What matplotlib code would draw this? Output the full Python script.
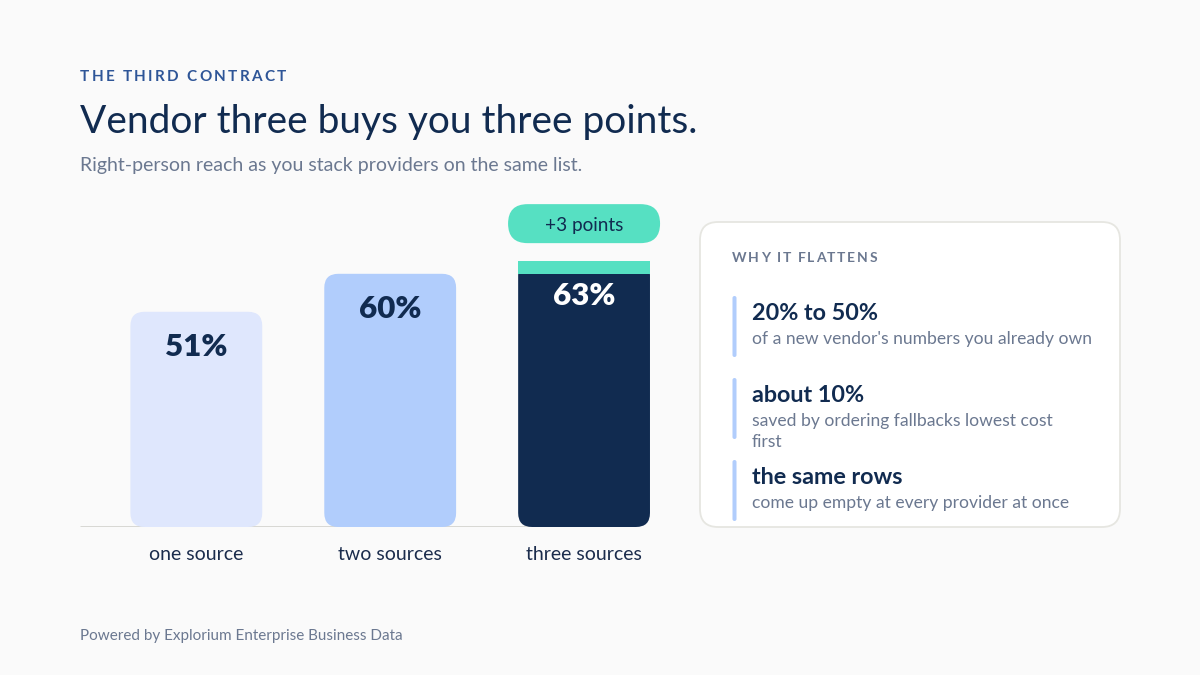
import matplotlib
matplotlib.use("Agg")
import matplotlib.pyplot as plt
from matplotlib.patches import FancyBboxPatch, Rectangle

plt.rcParams['font.family'] = ['Lato', 'DejaVu Sans']

categories = ["one source", "two sources", "three sources"]
values = [51, 60, 63]
prior_value = 60  # bar three's increment starts here
bar_colors = ["#dfe7fd", "#b1cdfc", "#112b50"]
label_colors = ["#112b50", "#112b50", "#ffffff"]
increment_label = "+3 points"

eyebrow = "THE THIRD CONTRACT"
title = "Vendor three buys you three points."
subtitle = "Right-person reach as you stack providers on the same list."
card_title = "WHY IT FLATTENS"
card_heads = ["20% to 50%", "about 10%", "the same rows"]
card_subs = ["of a new vendor's numbers you already own",
             "saved by ordering fallbacks lowest cost\nfirst",
             "come up empty at every provider at once"]
footer = "Powered by Explorium Enterprise Business Data"

NAVY = "#112b50"
GRAY = "#6b7890"
TEAL = "#56e0c2"
BG = "#fafafa"

W, H = 1200, 675
fig = plt.figure(figsize=(12, 6.75), dpi=100)
fig.patch.set_facecolor(BG)

# overlay axes in pixel coordinates
ov = fig.add_axes([0, 0, 1, 1])
ov.set_xlim(0, W)
ov.set_ylim(H, 0)
ov.axis('off')
ov.set_zorder(0)

renderer = fig.canvas.get_renderer()


def tracked_text(x, y, s, target_width, **kw):
    """Draw text char by char, spreading it to a given total width (letter spacing)."""
    widths = []
    for ch in s:
        t = ov.text(0, 0, ch if ch != " " else "\u00a0", **kw)
        widths.append(t.get_window_extent(renderer).width)
        t.remove()
    extra = (target_width - sum(widths)) / max(len(s) - 1, 1)
    cx = x
    for ch, w in zip(s, widths):
        if ch != " ":
            ov.text(cx, y, ch, ha='left', va='center', **kw)
        cx += w + extra


# chart axes
ax_left, ax_right = 80, 681
ax_bottom, ax_top = 527, 105
ax = fig.add_axes([ax_left / W, (H - ax_bottom) / H, (ax_right - ax_left) / W, (ax_bottom - ax_top) / H])
ax.set_zorder(1)
ax.patch.set_alpha(0)
ax.set_xlim(-0.6, 2.5)
ax.set_ylim(0, 100)
ax.axis('off')

px_x = (ax_right - ax_left) / 3.1
px_y = (ax_bottom - ax_top) / 100.0
bw = 0.68
r = 14 / px_x
asp = px_x / px_y

# baseline
ax.plot([-0.6, 2.18], [0, 0], color="#d4d4d0", lw=2, zorder=1, solid_capstyle='butt')

for i, (v, c) in enumerate(zip(values, bar_colors)):
    p = FancyBboxPatch((i - bw / 2, 0), bw, v,
                       boxstyle=f"round,pad=0,rounding_size={r}",
                       mutation_aspect=asp, fc=c, ec='none', zorder=2)
    ax.add_patch(p)
    ax.annotate(f"{v}%", xy=(i, v), xytext=(0, -35), textcoords='offset pixels',
                ha='center', va='center', fontsize=22.5, fontweight='heavy',
                color=label_colors[i], zorder=4)
    ax.annotate(categories[i], xy=(i, 0), xytext=(0, -27), textcoords='offset pixels',
                ha='center', va='center', fontsize=14, color="#1b2c4c")

# increment band on last bar
last = len(values) - 1
ax.add_patch(Rectangle((last - bw / 2, prior_value), bw, values[last] - prior_value,
                       fc=TEAL, ec='none', zorder=3))

# pill above last bar
fig.canvas.draw()
px, py = ax.transData.transform((last, values[last]))
py = H - py
pw, ph = 152, 39
pcy = py - 37.5
pill = FancyBboxPatch((px - pw / 2, pcy - ph / 2), pw, ph,
                      boxstyle="round,pad=0,rounding_size=19.5", fc=TEAL, ec='none', zorder=3)
ov.add_patch(pill)
ov.text(px, pcy + 2, increment_label, ha='center', va='center', fontsize=13.7, color=NAVY, zorder=4)

# header texts
tracked_text(80, 77, eyebrow, 206, fontsize=11, fontweight='bold', color="#2e5597")
ov.text(80, 122, title, ha='left', va='center', fontsize=28, color=NAVY)
ov.text(80, 165, subtitle, ha='left', va='center', fontsize=14, color=GRAY)

# card
card = FancyBboxPatch((700, 222), 420, 305, boxstyle="round,pad=0,rounding_size=18",
                      fc="white", ec="#e6e6e1", lw=1.3, zorder=1)
ov.add_patch(card)
tracked_text(732, 258, card_title, 145, fontsize=10, fontweight='bold', color=GRAY, zorder=2)
heads_y = [312, 394, 476]
for hy, hd, sb in zip(heads_y, card_heads, card_subs):
    ov.add_patch(FancyBboxPatch((732.5, hy - 16), 4, 61, boxstyle="round,pad=0,rounding_size=2",
                                fc="#b1cdfc", ec='none', zorder=2))
    ov.text(752, hy + 2, hd, ha='left', va='center', fontsize=16.8, fontweight='bold', color=NAVY, zorder=2)
    ov.text(752, hy + 19, sb, ha='left', va='top', fontsize=12.6, color=GRAY, zorder=2, linespacing=1.35)

ov.text(80, 636, footer, ha='left', va='center', fontsize=11, color=GRAY)

fig.savefig("out.png", dpi=100, facecolor=BG)
